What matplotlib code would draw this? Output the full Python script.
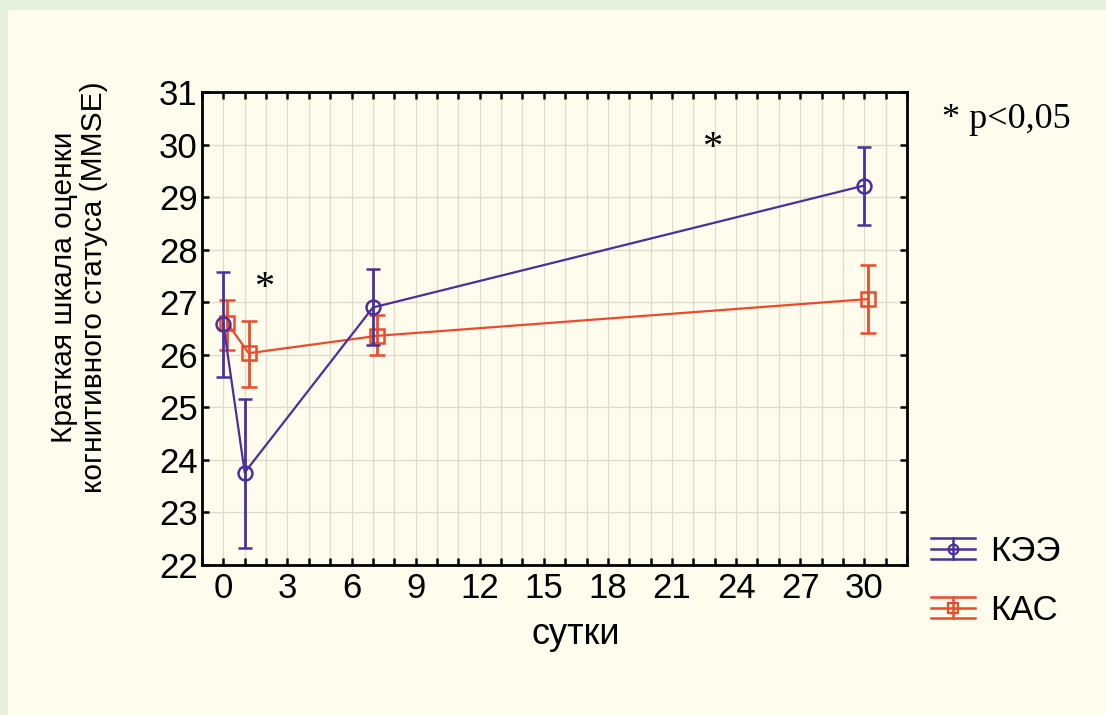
import matplotlib
matplotlib.use("Agg")
import matplotlib.pyplot as plt
import matplotlib.transforms as mtransforms
from matplotlib.legend_handler import HandlerBase
from matplotlib.lines import Line2D
from matplotlib.patches import Rectangle
import numpy as np

# Day of observation
days = [0, 1, 7, 30]

# КЭЭ group: mean MMSE and confidence limits
kee_mean = [26.58, 23.76, 26.90, 29.22]
kee_low = [25.57, 22.33, 26.18, 28.46]
kee_high = [27.57, 25.15, 27.63, 29.95]

# КАС group: mean MMSE and confidence limits
kas_mean = [26.60, 26.03, 26.36, 27.06]
kas_low = [26.09, 25.38, 25.99, 26.41]
kas_high = [27.04, 26.64, 26.75, 27.71]

series_labels = ["КЭЭ", "КАС"]
x_ticks = [0, 3, 6, 9, 12, 15, 18, 21, 24, 27, 30]
y_ticks = [22, 23, 24, 25, 26, 27, 28, 29, 30, 31]

# Significance marks (day, score)
star_x = [1.9, 22.9]
star_y = [27.26, 29.92]

PURPLE = "#4b2f9e"
RED = "#ec4a2c"
CREAM = "#fefcec"
GREEN = "#e4efdc"
GRID = "#dedcc8"

plt.rcParams["font.family"] = ["Liberation Sans", "DejaVu Sans"]

fig = plt.figure(figsize=(11.06, 7.15), dpi=100)
fig.patch.set_facecolor(CREAM)
# thin green frame strips on the left and top edges
fig.patches.append(Rectangle((0, 0), 8 / 1106, 1, transform=fig.transFigure,
                             facecolor=GREEN, edgecolor="none", zorder=-1))
fig.patches.append(Rectangle((0, 1 - 10 / 715), 1, 10 / 715, transform=fig.transFigure,
                             facecolor=GREEN, edgecolor="none", zorder=-1))

ax = fig.add_axes([202 / 1106, 1 - 565 / 715, 705 / 1106, 473 / 715])
ax.set_facecolor(CREAM)

ax.set_xlim(-1, 32)
ax.set_ylim(22, 31)
ax.set_xticks(x_ticks)
ax.set_xticks(np.arange(-1, 33, 1), minor=True)
ax.set_yticks(y_ticks)
ax.tick_params(axis="both", which="both", direction="in", top=True, right=True,
               length=5, width=1.8, color="black", labelsize=25, pad=3)
ax.tick_params(axis="x", which="both", pad=5)
ax.grid(True, which="both", color=GRID, linewidth=0.9)
ax.set_axisbelow(True)
for s in ax.spines.values():
    s.set_linewidth(2)
    s.set_color("black")

shift_red = ax.transData + mtransforms.ScaledTranslation(4 / 100, 0, fig.dpi_scale_trans)

kee_err = [np.array(kee_mean) - np.array(kee_low), np.array(kee_high) - np.array(kee_mean)]
kas_err = [np.array(kas_mean) - np.array(kas_low), np.array(kas_high) - np.array(kas_mean)]

ax.errorbar(days, kas_mean, yerr=kas_err, color=RED, lw=1.6, elinewidth=2,
            capsize=5.5, capthick=2, marker="s", markersize=9.5, mfc="none",
            mec=RED, mew=1.8, transform=shift_red, zorder=3, clip_on=False)
ax.errorbar(days, kee_mean, yerr=kee_err, color=PURPLE, lw=1.6, elinewidth=2,
            capsize=5, capthick=2, marker="o", markersize=10, mfc="none",
            mec=PURPLE, mew=1.8, zorder=4, clip_on=False)

for sx, sy in zip(star_x, star_y):
    ax.text(sx, sy, "*", fontsize=29, family="Liberation Serif",
            ha="center", va="center")

fig.text(1006 / 1106, 1 - 120 / 715, "* p<0,05", fontsize=26,
         family="Liberation Serif", ha="center", va="center")

ax.set_xlabel("сутки", fontsize=26, labelpad=8)
ax.xaxis.set_label_coords(0.53, -0.11)
ax.set_ylabel("Краткая шкала оценки\nкогнитивного статуса (MMSE)", fontsize=21.5,
              linespacing=1.08)
ax.yaxis.set_label_coords(-0.133, 0.588)


class HandlerErrRows(HandlerBase):
    """Legend key: line with marker between two cap lines."""

    def __init__(self, marker, msize, **kw):
        super().__init__(**kw)
        self.marker = marker
        self.msize = msize

    def create_artists(self, legend, orig_handle, xdescent, ydescent,
                       width, height, fontsize, trans):
        color = orig_handle.get_color()
        yc = height / 2 - ydescent
        gap = 7.5
        arts = []
        for yy in (yc - gap, yc, yc + gap):
            arts.append(Line2D([-xdescent, width - xdescent], [yy, yy],
                               color=color, lw=1.8, transform=trans))
        arts.append(Line2D([width / 2 - xdescent] * 2, [yc - gap, yc + gap],
                           color=color, lw=1.8, transform=trans))
        arts.append(Line2D([width / 2 - xdescent], [yc], marker=self.marker,
                           markersize=self.msize, mfc="none", mec=color,
                           mew=1.6, transform=trans, linestyle="none"))
        return arts


h_kee = Line2D([], [], color=PURPLE)
h_kas = Line2D([], [], color=RED)
leg = fig.legend([h_kee, h_kas], series_labels, loc="center left",
                 bbox_to_anchor=(900 / 1106, 1 - 581 / 715), frameon=False,
                 fontsize=25, handlelength=1.25, handletextpad=0.45,
                 labelspacing=0.75,
                 handler_map={h_kee: HandlerErrRows("o", 7),
                              h_kas: HandlerErrRows("s", 7)})

fig.savefig("out.png", dpi=100, facecolor=fig.get_facecolor())
